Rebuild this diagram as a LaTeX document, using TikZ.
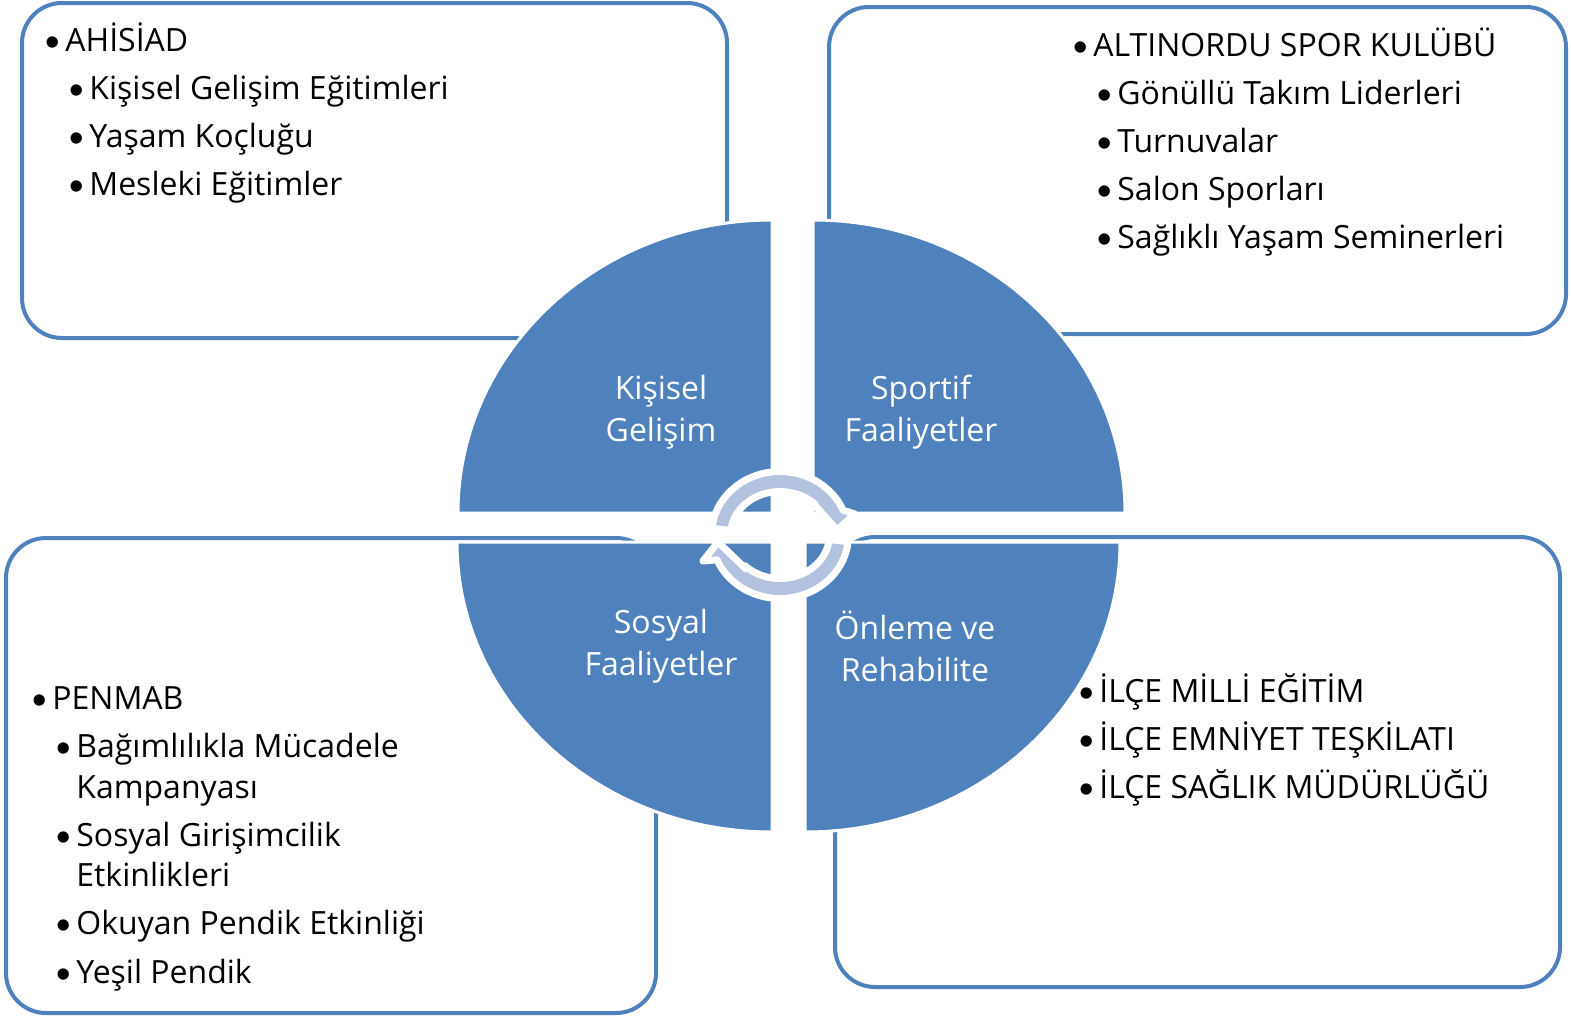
\documentclass[tikz,border=0pt]{standalone}
\usepackage{fontspec}
\setmainfont{Open Sans}
\newfontfamily\bulletfont{Carlito}
\usepackage{tikz}
\usetikzlibrary{positioning,calc}

\definecolor{boxblue}{HTML}{4F81BD}
\definecolor{quadblue}{HTML}{4F81BD}
\definecolor{arrowfill}{HTML}{B3C2DE}

\newcommand{\blt}{\makebox[10.5pt][l]{\bulletfont\textbullet}}

\tikzset{
  box/.style={draw=boxblue, line width=2pt, rounded corners=20pt, fill=white},
  quad/.style={fill=quadblue, draw=white, line width=1.5pt},
  lbl/.style={text=white, align=center, inner sep=0pt, font=\fontsize{16}{21}\selectfont},
  item/.style={anchor=base west, inner sep=0pt, font=\fontsize{16}{24}\selectfont},
  turn/.style={fill=arrowfill, draw=white, line width=3.5pt, line join=round}
}

\begin{document}
\begin{tikzpicture}[x=0.5pt,y=-0.5pt]
  \useasboundingbox (0,0) rectangle (1571,1018);

  % the four boxes
  \draw[box] (22,3) rectangle (727,338);
  \draw[box] (829,7) rectangle (1566,334);
  \draw[box] (6,538) rectangle (656,1013);
  \draw[box] (835,537) rectangle (1560,987);

  % quarters of the ellipse
  \coordinate (ctl) at (772,513);
  \coordinate (ctr) at (813,513);
  \coordinate (cbl) at (772,542);
  \coordinate (cbr) at (805,542);
  \draw[quad] (ctl) -- ++(-314,0) arc[start angle=180, end angle=270, x radius=314, y radius=293] -- cycle;
  \draw[quad] (ctr) -- ++(0,-293) arc[start angle=270, end angle=360, x radius=312, y radius=293] -- cycle;
  \draw[quad] (cbl) -- ++(0,290) arc[start angle=90, end angle=180, x radius=315, y radius=290] -- cycle;
  \draw[quad] (cbr) -- ++(315,0) arc[start angle=0, end angle=90, x radius=315, y radius=290] -- cycle;

  % turning arrows
  \coordinate (rot) at (780,535);
  \draw[turn] ($(rot)+(186:68.5 and 63.5)$) coordinate (turnA)
    arc[start angle=186, end angle=337, x radius=68.5, y radius=63.5]
    -- ($(rot)+(75,-21)$) -- ($(rot)+(57,-5)$) -- ($(rot)+(31,-34)$)
    -- ($(rot)+(316:49.5 and 43.5)$)
    arc[start angle=316, end angle=186, x radius=49.5, y radius=43.5] -- cycle;
  \draw[turn] ($(rot)+(6:68.5 and 63.5)$) coordinate (turnB)
    arc[start angle=6, end angle=157, x radius=68.5, y radius=63.5]
    -- ($(rot)+(-77,26)$) -- ($(rot)+(-62,7)$) -- ($(rot)+(-34,34)$)
    -- ($(rot)+(135:49.5 and 43.5)$)
    arc[start angle=135, end angle=6, x radius=49.5, y radius=43.5] -- cycle;

  % labels in the quarters
  \node[lbl] (kisisel) at (661,412) {Kişisel\\Gelişim};
  \node[lbl] (sportif) at (921,412) {Sportif\\Faaliyetler};
  \node[lbl] (sosyal) at (661,646) {Sosyal\\Faaliyetler};
  \node[lbl] (onleme) at (915,646) {Önleme ve\\Rehabilite};

  % AHISIAD
  \node[item] (a0) at (44,51) {\blt AHİSİAD};
  \node[item] (a1) at (68,99) {\blt Kişisel Gelişim Eğitimleri};
  \node[item] (a2) at (68,147) {\blt Yaşam Koçluğu};
  \node[item] (a3) at (68,195) {\blt Mesleki Eğitimler};

  % ALTINORDU
  \node[item] (b0) at (1072,56) {\blt ALTINORDU SPOR KULÜBÜ};
  \node[item] (b1) at (1096,104) {\blt Gönüllü Takım Liderleri};
  \node[item] (b2) at (1096,152) {\blt Turnuvalar};
  \node[item] (b3) at (1096,200) {\blt Salon Sporları};
  \node[item] (b4) at (1096,248) {\blt Sağlıklı Yaşam Seminerleri};

  % PENMAB
  \node[item] (c0) at (31,709) {\blt PENMAB};
  \node[item] (c1) at (55,757) {\blt Bağımlılıkla Mücadele};
  \node[item] (c1b) at (76,798) {Kampanyası};
  \node[item] (c2) at (55,846) {\blt Sosyal Girişimcilik};
  \node[item] (c2b) at (76,886) {Etkinlikleri};
  \node[item] (c3) at (55,934) {\blt Okuyan Pendik Etkinliği};
  \node[item] (c4) at (55,983) {\blt Yeşil Pendik};

  % ILCE
  \node[item] (d0) at (1078,702) {\blt İLÇE MİLLİ EĞİTİM};
  \node[item] (d1) at (1078,750) {\blt İLÇE EMNİYET TEŞKİLATI};
  \node[item] (d2) at (1078,798) {\blt İLÇE SAĞLIK MÜDÜRLÜĞÜ};
\end{tikzpicture}
\end{document}
